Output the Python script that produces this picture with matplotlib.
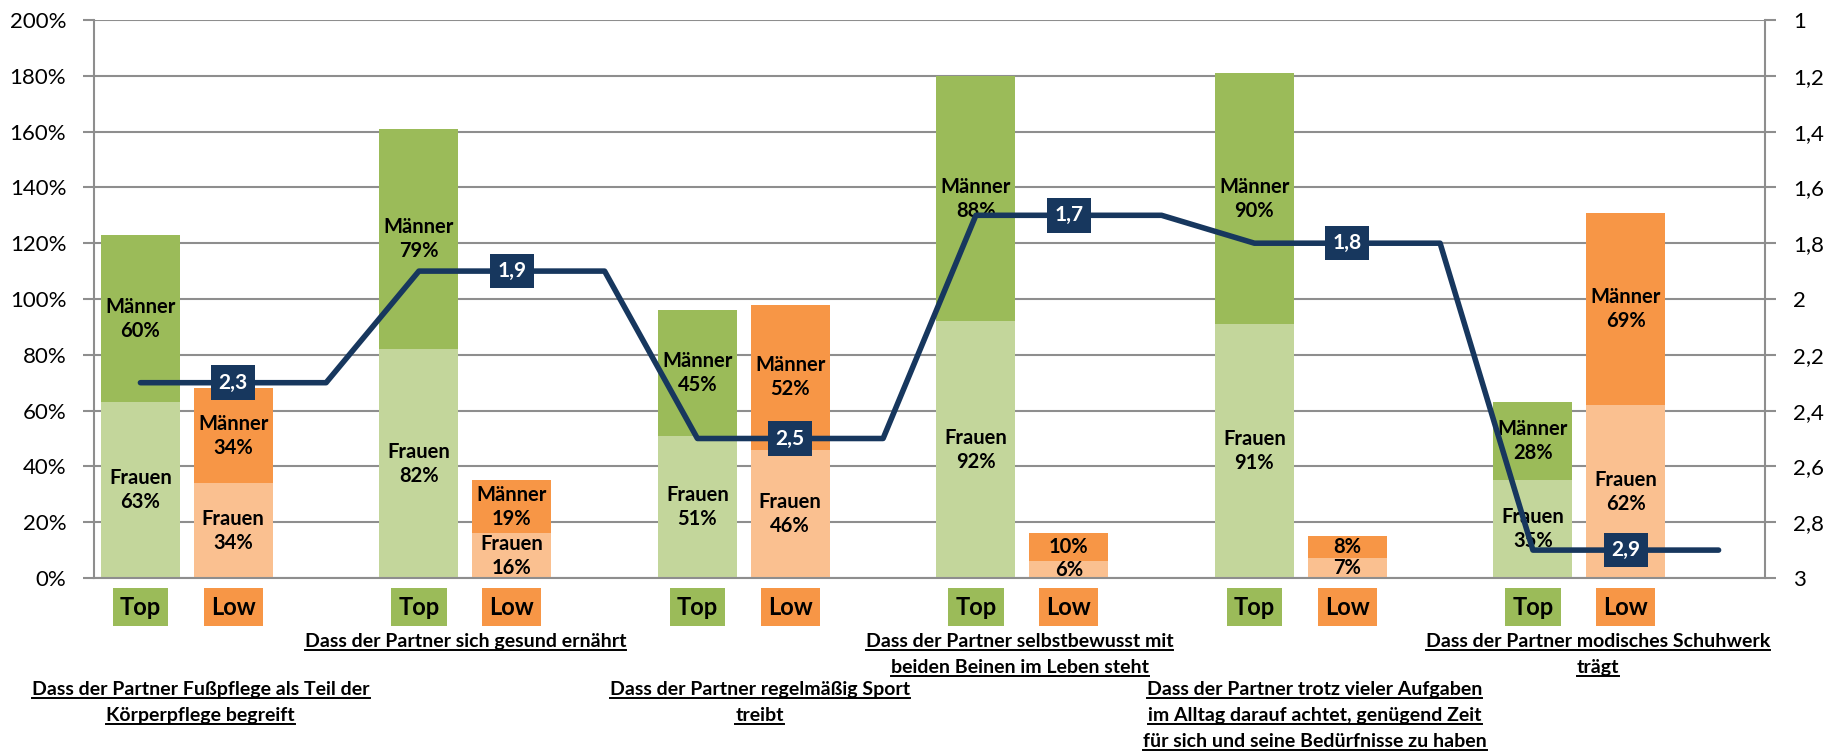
import matplotlib
matplotlib.use("Agg")
import matplotlib.pyplot as plt
import matplotlib.transforms as mtransforms
from matplotlib.lines import Line2D
import numpy as np

plt.rcParams["font.family"] = ["Lato", "DejaVu Sans"]

# Daten
gruppen = [
    ["Dass der Partner Fußpflege als Teil der", "Körperpflege begreift"],
    ["Dass der Partner sich gesund ernährt"],
    ["Dass der Partner regelmäßig Sport", "treibt"],
    ["Dass der Partner selbstbewusst mit", "beiden Beinen im Leben steht"],
    ["Dass der Partner trotz vieler Aufgaben", "im Alltag darauf achtet, genügend Zeit",
     "für sich und seine Bedürfnisse zu haben"],
    ["Dass der Partner modisches Schuhwerk", "trägt"],
]
top_frauen = [63, 82, 51, 92, 91, 35]
top_maenner = [60, 79, 45, 88, 90, 28]
low_frauen = [34, 16, 46, 6, 7, 62]
low_maenner = [34, 19, 52, 10, 8, 69]
mittelwert = [2.3, 1.9, 2.5, 1.7, 1.8, 2.9]

# Farben
gruen_hell = "#C3D69B"
gruen = "#9BBB59"
orange_hell = "#FAC090"
orange = "#F79646"
navy = "#17375E"
grau = "#8E8E8E"

W, H = 1840, 751
fig = plt.figure(figsize=(W / 100, H / 100), dpi=100)
ax = fig.add_axes([94 / W, 1 - 578 / H, (1765 - 94) / W, 558 / H])

n = len(top_frauen)
x_top = np.arange(n) * 3
x_low = x_top + 1
breite = 0.85

ax.bar(x_top, top_frauen, breite, color=gruen_hell, zorder=2)
ax.bar(x_top, top_maenner, breite, bottom=top_frauen, color=gruen, zorder=2)
ax.bar(x_low, low_frauen, breite, color=orange_hell, zorder=2)
ax.bar(x_low, low_maenner, breite, bottom=low_frauen, color=orange, zorder=2)


def beschriften(x, unten, wert, name):
    txt = f"{name}\n{wert}%" if wert >= 12 else f"{wert}%"
    ax.text(x, unten + wert / 2, txt, ha="center", va="center", fontsize=14.5,
            fontweight="bold", linespacing=1.25, zorder=3)


for i in range(n):
    beschriften(x_top[i], 0, top_frauen[i], "Frauen")
    beschriften(x_top[i], top_frauen[i], top_maenner[i], "Männer")
    beschriften(x_low[i], 0, low_frauen[i], "Frauen")
    beschriften(x_low[i], low_frauen[i], low_maenner[i], "Männer")

ax.set_xlim(-0.5, 3 * n - 0.5)
ax.set_ylim(0, 200)
ax.set_yticks(range(0, 201, 20))
ax.set_yticklabels([f"{v}%" for v in range(0, 201, 20)])
ax.set_xticks([])
ax.grid(axis="y", color=grau, lw=1.5)
ax.set_axisbelow(True)
for s in ["top", "right"]:
    ax.spines[s].set_visible(False)
for s in ["left", "bottom"]:
    ax.spines[s].set_color(grau)
    ax.spines[s].set_linewidth(1.5)
ax.tick_params(axis="y", length=8, width=1.5, color=grau, labelsize=16, pad=12)

# Sekundärachse mit Mittelwerten
ax2 = ax.twinx()
ax2.set_ylim(3, 1)
r_ticks = np.round(np.arange(1, 3.01, 0.2), 1)
ax2.set_yticks(r_ticks)
ax2.set_yticklabels([f"{v:g}".replace(".", ",") for v in r_ticks])
ax2.tick_params(axis="y", length=8, width=1.5, color=grau, labelsize=16, pad=12)
for s in ["top", "left", "bottom"]:
    ax2.spines[s].set_visible(False)
ax2.spines["right"].set_color(grau)
ax2.spines["right"].set_linewidth(1.5)

x_linie = np.arange(3 * n)
y_linie = np.repeat(mittelwert, 3)
ax2.plot(x_linie, y_linie, color=navy, lw=4, solid_capstyle="round", zorder=4)
for i in range(n):
    ax2.text(x_low[i], mittelwert[i], f"{mittelwert[i]:g}".replace(".", ","),
             ha="center", va="center", color="white", fontsize=15, fontweight="bold",
             zorder=5, bbox=dict(boxstyle="square,pad=0.35", fc=navy, ec="none"))

# Top / Low Kästchen unter den Balken
trans = mtransforms.blended_transform_factory(ax.transData, ax.transAxes)
for i in range(n):
    ax.text(x_top[i], -0.052, "Top", transform=trans, ha="center", va="center",
            fontsize=17, fontweight="bold",
            bbox=dict(boxstyle="square,pad=0.3", fc=gruen, ec="none"))
    ax.text(x_low[i], -0.052, "Low", transform=trans, ha="center", va="center",
            fontsize=17, fontweight="bold",
            bbox=dict(boxstyle="square,pad=0.3", fc=orange, ec="none"))

# Gruppenbeschriftungen (unterstrichen)
label_x = [0.65, 3.5, 6.67, 9.47, 12.65, 15.7]
label_y0 = [695, 647, 695, 647, 695, 647]
zeilenabstand = 26
ftrans = mtransforms.blended_transform_factory(ax.transData, fig.transFigure)
texte = []
for g, zeilen in enumerate(gruppen):
    for k, zeile in enumerate(zeilen):
        yb = label_y0[g] + k * zeilenabstand
        t = fig.text(label_x[g], 1 - yb / H, zeile, transform=ftrans, ha="center",
                     va="baseline", fontsize=14, fontweight="bold")
        texte.append((t, yb))

fig.canvas.draw()
renderer = fig.canvas.get_renderer()
for t, yb in texte:
    bb = t.get_window_extent(renderer)
    yu = (H - yb - 2.5) / H
    fig.add_artist(Line2D([bb.x0 / W, bb.x1 / W], [yu, yu], transform=fig.transFigure,
                          color="black", lw=1.4))

fig.savefig("out.png", dpi=100)
